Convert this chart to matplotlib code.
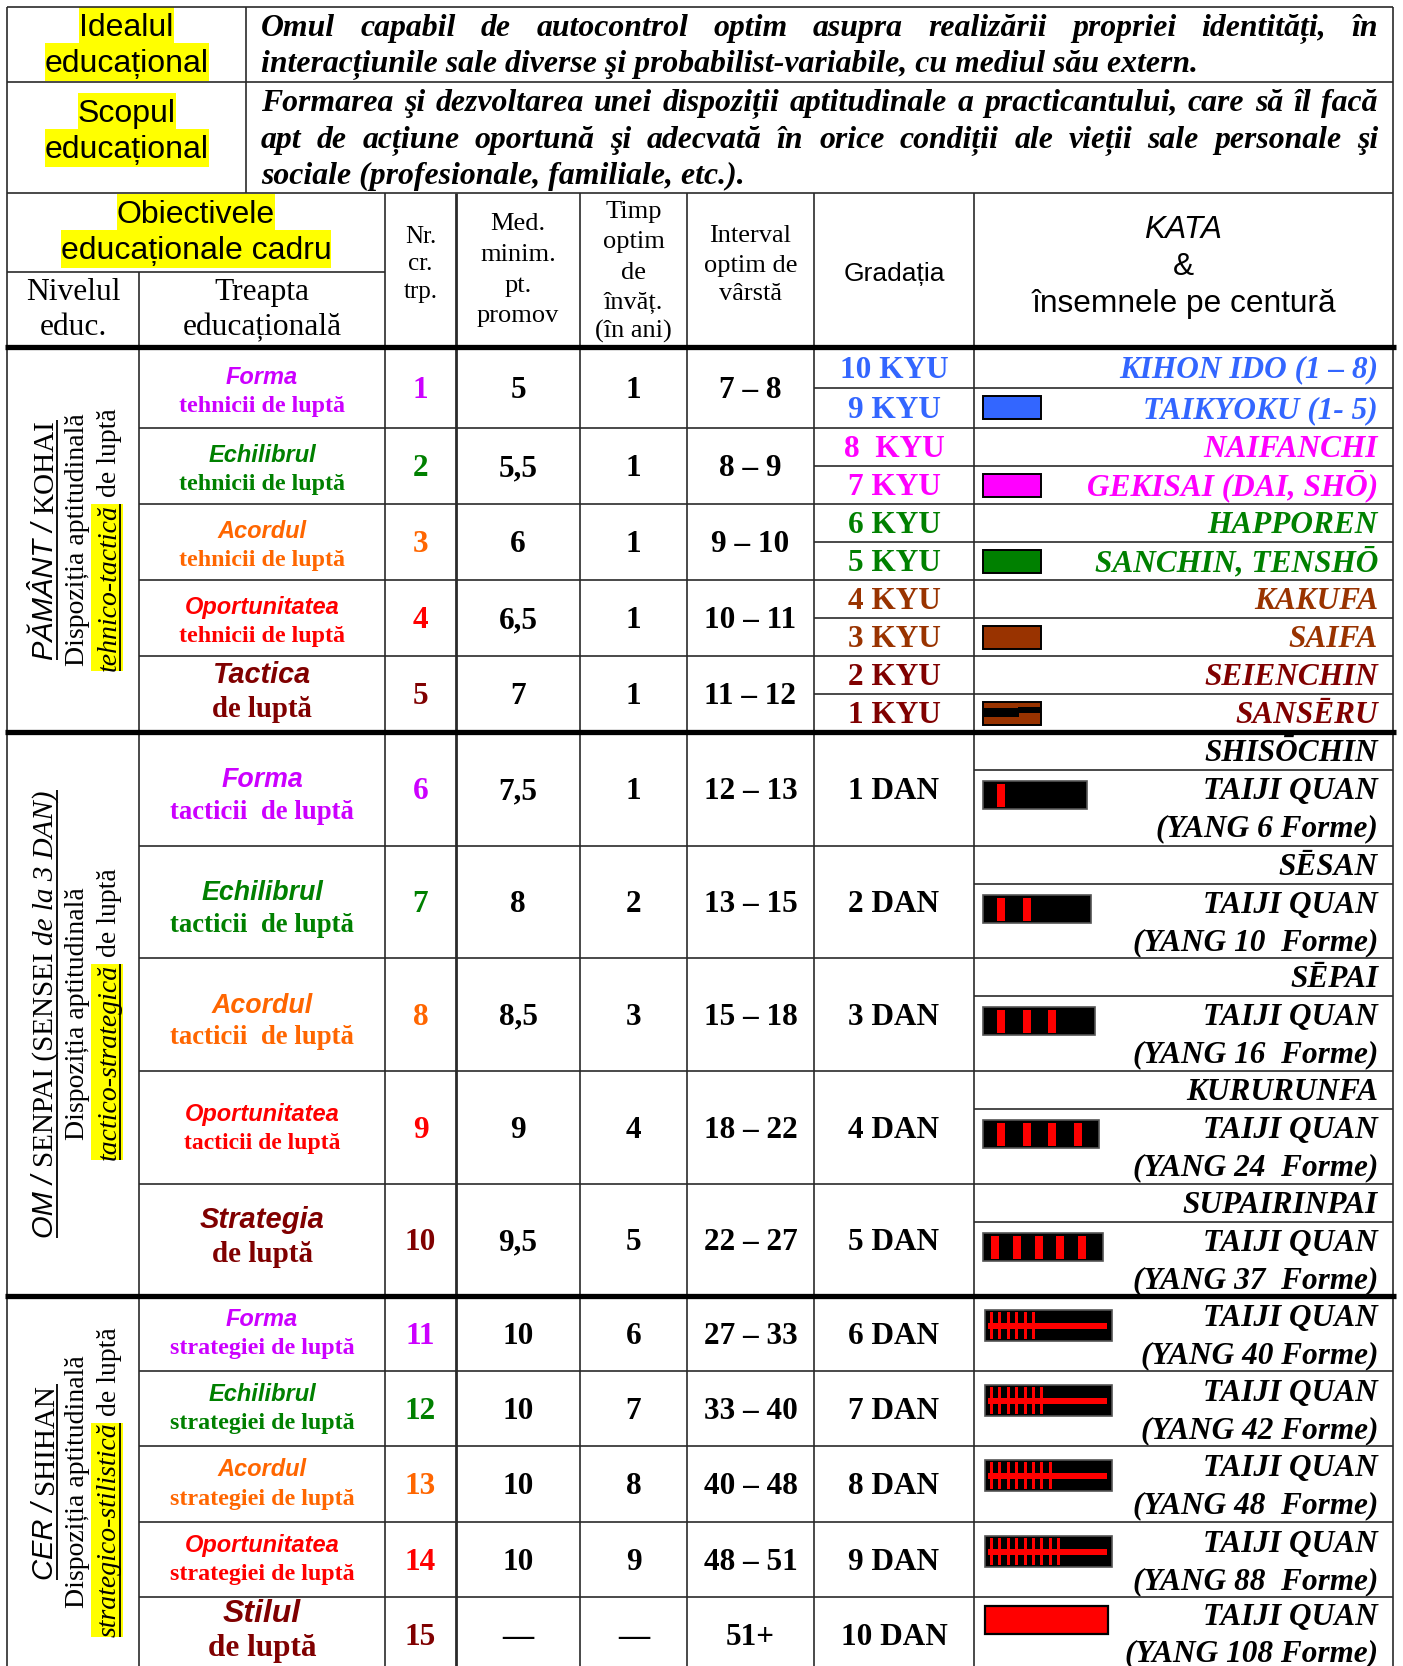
import matplotlib
matplotlib.use('Agg')
import matplotlib.pyplot as plt
from matplotlib.font_manager import FontProperties
from matplotlib.patches import Rectangle

# ---------------------------------------------------------------- data
ideal_label = ["Idealul", "educațional"]
scop_label = ["Scopul", "educațional"]
ideal_text = ["Omul capabil de autocontrol optim asupra realizării propriei identități, în",
              "interacțiunile sale diverse şi probabilist-variabile, cu mediul său extern."]
scop_text = ["Formarea şi dezvoltarea unei dispoziții aptitudinale a practicantului, care să îl facă",
             "apt de acțiune oportună şi adecvată în orice condiții ale vieții sale personale şi",
             "sociale (profesionale, familiale, etc.)."]
obj_label = ["Obiectivele", "educaționale cadru"]
hdr_nivel = ["Nivelul", "educ."]
hdr_treapta = ["Treapta", "educațională"]
hdr_nr = ["Nr.", "cr.", "trp."]
hdr_med = ["Med.", "minim.", "pt.", "promov"]
hdr_timp = ["Timp", "optim", "de", "învăț.", "(în ani)"]
hdr_interval = ["Interval", "optim de", "vârstă"]
hdr_grad = "Gradația"
hdr_kata = ["KATA", "&", "însemnele pe centură"]

# rotated level labels: (text, style, underline, highlight)
level_line1 = [
    [("PĂMÂNT / ", "sans_i", True, False), ("KOHAI", "serif", True, False)],
    [("OM / ", "sans_i", True, False), ("SENPAI (SENSEI ", "serif", True, False),
     ("de la 3 DAN)", "serif_i", True, False)],
    [("CER / ", "sans_i", True, False), ("SHIHAN", "serif", True, False)],
]
level_line2 = ["Dispoziția aptitudinală"] * 3
level_line3_em = ["tehnico-tactică", "tactico-strategică", "strategico-stilistică"]
level_line3_rest = " de luptă"

step_title = ["Forma", "Echilibrul", "Acordul", "Oportunitatea", "Tactica",
              "Forma", "Echilibrul", "Acordul", "Oportunitatea", "Strategia",
              "Forma", "Echilibrul", "Acordul", "Oportunitatea", "Stilul"]
step_sub = ["tehnicii de luptă", "tehnicii de luptă", "tehnicii de luptă", "tehnicii de luptă", "de luptă",
            "tacticii  de luptă", "tacticii  de luptă", "tacticii  de luptă", "tacticii de luptă", "de luptă",
            "strategiei de luptă", "strategiei de luptă", "strategiei de luptă", "strategiei de luptă", "de luptă"]
nr = ["1", "2", "3", "4", "5", "6", "7", "8", "9", "10", "11", "12", "13", "14", "15"]
med = ["5", "5,5", "6", "6,5", "7", "7,5", "8", "8,5", "9", "9,5", "10", "10", "10", "10", "—"]
timp = ["1", "1", "1", "1", "1", "1", "2", "3", "4", "5", "6", "7", "8", "9", "—"]
interval = ["7 – 8", "8 – 9", "9 – 10", "10 – 11", "11 – 12", "12 – 13", "13 – 15", "15 – 18",
            "18 – 22", "22 – 27", "27 – 33", "33 – 40", "40 – 48", "48 – 51", "51+"]
kyu_grades = ["10 KYU", "9 KYU", "8  KYU", "7 KYU", "6 KYU", "5 KYU", "4 KYU", "3 KYU", "2 KYU", "1 KYU"]
kyu_kata = ["KIHON IDO (1 – 8)", "TAIKYOKU (1- 5)", "NAIFANCHI", "GEKISAI (DAI, SHŌ)", "HAPPOREN",
            "SANCHIN, TENSHŌ", "KAKUFA", "SAIFA", "SEIENCHIN", "SANSĒRU"]
dan_grades = ["1 DAN", "2 DAN", "3 DAN", "4 DAN", "5 DAN", "6 DAN", "7 DAN", "8 DAN", "9 DAN", "10 DAN"]
dan_kata_name = ["SHISŌCHIN", "SĒSAN", "SĒPAI", "KURURUNFA", "SUPAIRINPAI"]
dan_taiji = "TAIJI QUAN"
dan_yang = ["(YANG 6 Forme)", "(YANG 10  Forme)", "(YANG 16  Forme)", "(YANG 24  Forme)",
            "(YANG 37  Forme)", "(YANG 40 Forme)", "(YANG 42 Forme)", "(YANG 48  Forme)",
            "(YANG 88  Forme)", "(YANG 108 Forme)"]
dan_marks = [1, 2, 3, 4, 5, 6, 7, 8, 9, 10]

# ---------------------------------------------------------------- styles
VIOLET, GREEN, ORANGE, RED, DARKRED = '#CC00FF', '#008000', '#FF6600', '#FF0000', '#800000'
BLUE, MAGENTA, BROWN = '#3366FF', '#FF00FF', '#993300'
step_colors = [VIOLET, GREEN, ORANGE, RED, DARKRED]
kyu_colors = [BLUE, MAGENTA, GREEN, BROWN, DARKRED]
YELLOW = '#FFFF00'
LINE = '#2a2a2a'

SERIF, SANS = 'Liberation Serif', 'Liberation Sans'

W, H = 1403, 1666
fig = plt.figure(figsize=(W / 100, H / 100), dpi=100)
ax = fig.add_axes([0, 0, 1, 1])
ax.set_xlim(0, W)
ax.set_ylim(H, 0)
ax.axis('off')
renderer = fig.canvas.get_renderer()


def fp(family, size, weight='normal', style='normal'):
    return FontProperties(family=family, size=size, weight=weight, style=style)


STYLE = {
    'serif': dict(family=SERIF),
    'serif_i': dict(family=SERIF, style='italic'),
    'sans_i': dict(family=SANS, style='italic'),
}


def adv(s, prop):
    if not s:
        return 0.0
    a = renderer.get_text_width_height_descent('|' + s + '|', prop, ismath=False)[0]
    b = renderer.get_text_width_height_descent('||', prop, ismath=False)[0]
    return a - b


def pxsize(prop):
    return prop.get_size_in_points() / 0.72


def txt(x, y, s, prop, color='black', ha='center', z=3):
    ax.text(x, y, s, fontproperties=prop, color=color, ha=ha, va='baseline', zorder=z)


def hl_lines(xc, baselines, lines, prop):
    for b, s in zip(baselines, lines):
        w = adv(s, prop)
        px = pxsize(prop)
        ax.add_patch(Rectangle((xc - w / 2, b - 0.9 * px), w, 1.19 * px, color=YELLOW, lw=0, zorder=1))
        txt(xc, b, s, prop)


def justify(line, x0, x1, base, prop, color='black'):
    words = line.split()
    ws = [adv(w, prop) for w in words]
    gap = (x1 - x0 - sum(ws)) / (len(words) - 1)
    x = x0
    for w, wd in zip(words, ws):
        txt(x, base, w, prop, color, ha='left')
        x += wd + gap


def rot_rich(xb, yc, pieces, size):
    props = [fp(size=size, **STYLE[st]) for _, st, _, _ in pieces]
    advs = [adv(t, p) for (t, _, _, _), p in zip(pieces, props)]
    L = sum(advs)
    y = yc + L / 2
    for (t, st, ul, hlt), p, a in zip(pieces, props, advs):
        px = pxsize(p)
        if hlt:
            ax.add_patch(Rectangle((xb - 0.9 * px, y - a), 1.15 * px, a, color=YELLOW, lw=0, zorder=1))
        if ul:
            ax.plot([xb + 0.15 * px, xb + 0.15 * px], [y, y - a], color='black', lw=1.3, zorder=4,
                    solid_capstyle='butt')
        ts = t.lstrip()
        lead = adv('a' + t[:len(t) - len(ts)] + 'a', p) - adv('aa', p)
        ax.text(xb, y - lead, ts.rstrip(), fontproperties=p, rotation=90, rotation_mode='anchor',
                ha='left', va='baseline', zorder=3)
        y -= a


# ---------------------------------------------------------------- layout
X = [7, 139, 385, 456, 580, 687, 814, 974, 1393]
XSPLIT = 246
Y_TOP, Y_R1, Y_R2, Y_SUB, Y_HDR = 7, 82, 193, 272, 347
SECTIONS = [[347, 428, 504, 580, 656, 732],
            [732, 846, 958, 1071, 1184, 1296],
            [1296, 1371, 1446, 1522, 1597, 1672]]
Y_END = 1672


def hline(y, x0, x1, lw=1.2, color=LINE):
    ax.plot([x0, x1], [y, y], color=color, lw=lw, solid_capstyle='butt', zorder=5)


def vline(x, y0, y1, lw=1.2, color=LINE):
    ax.plot([x, x], [y0, y1], color=color, lw=lw, solid_capstyle='butt', zorder=5)


# outer frame & header grid
hline(Y_TOP, X[0], X[-1])
hline(Y_R1, X[0], X[-1])
hline(Y_R2, X[0], X[-1])
vline(X[0], Y_TOP, Y_END)
vline(X[-1], Y_TOP, Y_END)
vline(XSPLIT, Y_TOP, Y_R2)
hline(Y_SUB, X[0], X[2])
vline(X[1], Y_SUB, Y_END)
for i in range(2, 8):
    vline(X[i], Y_R2, Y_END, lw=2.0 if i == 3 else 1.2)
for y in [Y_HDR, SECTIONS[1][0], SECTIONS[2][0]]:
    hline(y, X[0] - 2, X[-1] + 3, lw=3.8, color='black')

# section row lines
for si, rows in enumerate(SECTIONS):
    for y in rows[1:-1]:
        hline(y, X[1], X[-1])
    for r in range(5):
        t, b = rows[r], rows[r + 1]
        if si == 0:
            hline((t + b) / 2, X[6], X[-1])
        elif si == 1:
            hline(t + 38, X[7], X[-1])

# ---------------------------------------------------------------- top rows
f_lab = fp(SANS, 23)
hl_lines((X[0] + XSPLIT) / 2, [36, 72], ideal_label, f_lab)
hl_lines((X[0] + XSPLIT) / 2, [122, 158], scop_label, f_lab)

f_par = fp(SERIF, 22.9, 'bold', 'italic')
PX0, PX1 = 261, 1378
justify(ideal_text[0], PX0, PX1, 36, f_par)
txt(PX0, 72, ideal_text[1], f_par, ha='left')
justify(scop_text[0], PX0, PX1, 111, f_par)
justify(scop_text[1], PX0, PX1, 147.5, f_par)
txt(PX0, 184, scop_text[2], f_par, ha='left')

# ---------------------------------------------------------------- header
hl_lines((X[0] + X[2]) / 2, [223, 259], obj_label, f_lab)
f_h1 = fp(SERIF, 22.7)
for b, s in zip([300, 335], hdr_nivel):
    txt((X[0] + X[1]) / 2, b, s, f_h1)
for b, s in zip([300, 335], hdr_treapta):
    txt((X[1] + X[2]) / 2, b, s, f_h1)
f_nr = fp(SERIF, 18)
for b, s in zip([243, 270, 298], hdr_nr):
    txt((X[2] + X[3]) / 2, b, s, f_nr)
f_h2 = fp(SERIF, 19)
for b, s in zip([230, 261, 292, 322], hdr_med):
    txt((X[3] + X[4]) / 2, b, s, f_h2)
for b, s in zip([218, 248, 279, 309, 338], hdr_timp):
    txt((X[4] + X[5]) / 2, b, s, f_h2)
for b, s in zip([242, 272, 300], hdr_interval):
    txt((X[5] + X[6]) / 2, b, s, f_h2)
txt((X[6] + X[7]) / 2, 281, hdr_grad, fp(SANS, 19))
kx = (X[7] + X[8]) / 2
txt(kx, 238, hdr_kata[0], fp(SANS, 22.8, style='italic'))
txt(kx, 275, hdr_kata[1], fp(SANS, 22.8))
txt(kx, 312, hdr_kata[2], fp(SANS, 22.8))

# ---------------------------------------------------------------- level labels (rotated)
for si, rows in enumerate(SECTIONS):
    yc = 540 if si == 0 else (1014 if si == 1 else 1482)
    rot_rich(53, yc, level_line1[si], 21)
    rot_rich(84, yc, [(level_line2[si], 'serif', False, False)], 20)
    rot_rich(116, yc, [(level_line3_em[si], 'serif_i', True, True),
                       (level_line3_rest, 'serif', False, False)], 20)

# ---------------------------------------------------------------- step rows
title_sizes = [17, 17, 17, 17, 20.7, 19.3, 19.3, 19.3, 17, 21, 17, 17, 17, 17, 23]
sub_sizes = [17.3, 17.3, 17.3, 17.3, 20.7, 19.3, 19.3, 19.3, 17, 21, 17.3, 17.3, 17.3, 17.3, 22.5]
title_off = [-4, -4, -4, -4, -11, -2, -2, -2, -6.5, -12, -7.5, -7.5, -7.5, -7.5, -12.5]
sub_off = [24, 24, 24, 24, 23, 30, 30, 30, 21.5, 22, 20.5, 20.5, 20.5, 20.5, 21.5]
f_num = fp(SERIF, 22.5, 'bold')
NUM_DY = 10.3
for k in range(15):
    si, r = divmod(k, 5)
    t, b = SECTIONS[si][r], SECTIONS[si][r + 1]
    c = (t + b) / 2
    col = step_colors[r]
    txt((X[1] + X[2]) / 2, c + title_off[k], step_title[k],
        fp(SANS, title_sizes[k], 'bold', 'italic'), col)
    txt((X[1] + X[2]) / 2, c + sub_off[k], step_sub[k], fp(SERIF, sub_sizes[k], 'bold'), col)
    txt((X[2] + X[3]) / 2, c + NUM_DY, nr[k], f_num, col)
    txt((X[3] + X[4]) / 2, c + NUM_DY, med[k], f_num)
    txt((X[4] + X[5]) / 2, c + NUM_DY, timp[k], f_num)
    txt((X[5] + X[6]) / 2, c + NUM_DY, interval[k], f_num)

# ---------------------------------------------------------------- KYU grades
f_kata = fp(SERIF, 22.5, 'bold', 'italic')
KX = 1378
GX = (X[6] + X[7]) / 2
rows = SECTIONS[0]
for j in range(10):
    r = j // 2
    t, b = rows[r], rows[r + 1]
    m = (t + b) / 2
    c = (t + m) / 2 if j % 2 == 0 else (m + b) / 2
    col = kyu_colors[r]
    txt(GX, c + NUM_DY, kyu_grades[j], f_num, col)
    txt(KX, c + NUM_DY, kyu_kata[j], f_kata, col, ha='right')
    if j % 2 == 1:
        bx, bw, bh = X[7] + 9, 58, 23
        ax.add_patch(Rectangle((bx, c - bh / 2), bw, bh, facecolor=kyu_colors[r] if r < 4 else BROWN,
                               edgecolor='black', lw=1.4, zorder=6))
        if r == 4:
            ax.add_patch(Rectangle((bx + 1, c - bh / 2 + 6), bw * 0.6, 9, facecolor='black', lw=0, zorder=7))
            ax.add_patch(Rectangle((bx + bw * 0.6, c - bh / 2 + 5), bw * 0.4 - 1, 6, facecolor='black',
                                   lw=0, zorder=7))

# ---------------------------------------------------------------- DAN grades
for j in range(10):
    si = 1 + j // 5
    r = j % 5
    t, b = SECTIONS[si][r], SECTIONS[si][r + 1]
    c = (t + b) / 2
    txt(GX, c + NUM_DY, dan_grades[j], f_num)
    n = dan_marks[j]
    if si == 1:
        txt(KX, t + 19 + NUM_DY, dan_kata_name[r], f_kata, ha='right')
        txt(KX, t + 57 + NUM_DY, dan_taiji, f_kata, ha='right')
        txt(KX, t + 94 + NUM_DY, dan_yang[j], f_kata, ha='right')
        bx, bw, bh, by = X[7] + 9, 100 + 4 * n, 28, t + 49
        ax.add_patch(Rectangle((bx, by), bw, bh, facecolor='black', edgecolor='#555555', lw=1.2, zorder=6))
        step = 25.5 if n < 5 else 21.8
        x0 = bx + (14 if n < 5 else 8)
        for i in range(n):
            ax.add_patch(Rectangle((x0 + i * step, by + 3), 8, bh - 5, facecolor=RED, lw=0, zorder=7))
    else:
        last = (j == 9)
        dy_top = -19.5 if last else -18
        dy_bot = 16.5 if last else 19
        txt(KX, c + dy_top + NUM_DY, dan_taiji, f_kata, ha='right')
        txt(KX, c + dy_bot + NUM_DY, dan_yang[j], f_kata, ha='right')
        bx = X[7] + 11
        if n < 10:
            bw, bh, by = 127, 31, t + 14
            ax.add_patch(Rectangle((bx, by), bw, bh, facecolor='black', edgecolor='#555555', lw=1.2, zorder=6))
            for i in range(n):
                ax.add_patch(Rectangle((bx + 5 + i * 8.4, by + 2), 3, bh - 4, facecolor=RED, lw=0, zorder=7))
            ax.add_patch(Rectangle((bx + 3, by + bh / 2 - 3), bw - 8, 6, facecolor=RED, lw=0, zorder=7))
        else:
            bw, bh, by = 123, 28, t + 9
            ax.add_patch(Rectangle((bx, by), bw, bh, facecolor=RED, edgecolor='black', lw=1.6, zorder=6))

fig.savefig('out.png', dpi=100)
